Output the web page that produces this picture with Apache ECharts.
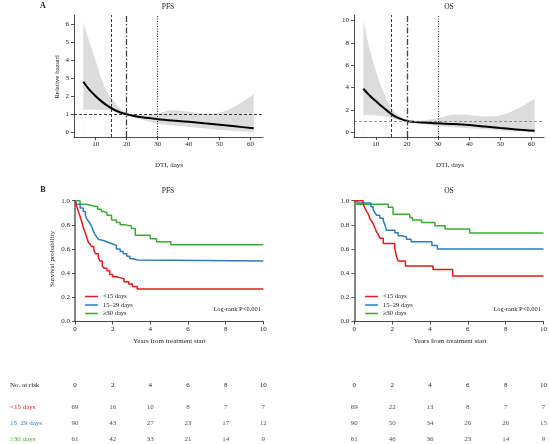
<!DOCTYPE html>
<html><head><meta charset="utf-8">
<script src="https://cdn.jsdelivr.net/npm/echarts@6/dist/echarts.min.js"></script>
<style>html,body{margin:0;padding:0;background:#fff}#c{width:550px;height:444px}</style>
</head><body><div id="c"></div>
<script>
// ---------- Panel A: relative hazard vs DTI ----------
const hazX   = [6, 8, 10, 12, 14, 16, 18, 20, 22, 25, 30, 35, 40, 45, 50, 55, 61];
const pfsHR  = [2.8, 2.35, 2.0, 1.7, 1.45, 1.25, 1.1, 1.0, 0.92, 0.83, 0.73, 0.65, 0.58, 0.5, 0.42, 0.33, 0.22];
const pfsLo  = [1.25, 1.25, 1.25, 1.25, 1.22, 1.12, 1.03, 0.95, 0.85, 0.7, 0.48, 0.38, 0.3, 0.22, 0.13, 0.07, 0.02];
const pfsHi  = [6.1, 5.0, 3.95, 2.9, 2.15, 1.7, 1.3, 1.05, 0.98, 0.96, 1.05, 1.22, 1.14, 1.04, 1.1, 1.45, 2.1];
const osHR   = [3.9, 3.3, 2.8, 2.3, 1.85, 1.45, 1.2, 1.02, 0.94, 0.87, 0.8, 0.74, 0.65, 0.52, 0.38, 0.26, 0.15];
const osLo   = [1.55, 1.55, 1.5, 1.45, 1.35, 1.2, 1.05, 0.97, 0.88, 0.75, 0.56, 0.45, 0.37, 0.27, 0.17, 0.09, 0.03];
const osHi   = [10.1, 7.5, 5.5, 3.9, 2.7, 1.85, 1.35, 1.08, 1.02, 1.05, 1.25, 1.6, 1.55, 1.42, 1.52, 2.05, 3.0];
const cutoffs = [15, 20, 30];
const hazTicksX = [10, 20, 30, 40, 50, 60];
const pfsTicksY = [0, 1, 2, 3, 4, 5, 6];
const osTicksY  = [0, 2, 4, 6, 8, 10];

// ---------- Panel B: Kaplan-Meier ----------
const groups = ['<15 days', '15–29 days', '≥30 days'];
const pfsLt15T = [0, 0.08, 0.18, 0.27, 0.35, 0.44, 0.53, 0.62, 0.70, 0.80, 0.88, 1.0, 1.1, 1.24, 1.33, 1.45, 1.55, 1.7, 1.85, 2.0, 2.2, 2.6, 2.85, 3.05, 3.3, 10];
const pfsLt15S = [1.0, 0.96, 0.91, 0.87, 0.83, 0.78, 0.74, 0.70, 0.66, 0.64, 0.62, 0.59, 0.56, 0.53, 0.50, 0.46, 0.44, 0.42, 0.39, 0.37, 0.355, 0.33, 0.31, 0.29, 0.27, 0.27];
const pfsMidT  = [0, 0.1, 0.27, 0.44, 0.55, 0.62, 0.72, 0.8, 0.9, 0.97, 1.06, 1.15, 1.25, 1.33, 1.5, 1.68, 1.85, 2.03, 2.2, 2.4, 2.56, 2.75, 2.92, 3.1, 3.3, 10];
const pfsMidS  = [1.0, 0.97, 0.94, 0.91, 0.88, 0.85, 0.83, 0.81, 0.78, 0.75, 0.72, 0.70, 0.68, 0.67, 0.66, 0.65, 0.64, 0.63, 0.60, 0.58, 0.56, 0.54, 0.52, 0.51, 0.50, 0.50];
const pfsHighT = [0, 0.27, 0.6, 0.88, 1.2, 1.4, 1.55, 1.7, 1.94, 2.2, 2.4, 2.7, 3.0, 3.2, 4.0, 4.33, 5.09, 10];
const pfsHighS = [1.0, 0.97, 0.96, 0.95, 0.93, 0.91, 0.90, 0.88, 0.84, 0.82, 0.80, 0.79, 0.77, 0.715, 0.685, 0.66, 0.636, 0.636];
const osLt15T  = [0, 0.47, 0.56, 0.65, 0.74, 0.83, 0.92, 1.0, 1.1, 1.18, 1.27, 1.35, 1.53, 2.14, 2.23, 2.32, 2.7, 4.16, 5.2, 10];
const osLt15S  = [1.0, 0.97, 0.94, 0.91, 0.89, 0.85, 0.83, 0.81, 0.77, 0.74, 0.72, 0.69, 0.645, 0.607, 0.537, 0.50, 0.46, 0.43, 0.377, 0.377];
const osMidT   = [0, 0.15, 0.88, 1.0, 1.1, 1.17, 1.35, 1.53, 1.62, 1.7, 2.14, 2.32, 2.5, 2.76, 3.0, 4.1, 4.39, 10];
const osMidS   = [1.0, 0.98, 0.95, 0.92, 0.90, 0.88, 0.854, 0.835, 0.80, 0.755, 0.735, 0.71, 0.70, 0.68, 0.66, 0.63, 0.60, 0.60];
const osHighT  = [0, 0.05, 1.79, 2.05, 2.93, 3.07, 3.55, 4.26, 4.8, 6.1, 10];
const osHighS  = [1.0, 0.97, 0.945, 0.887, 0.86, 0.84, 0.82, 0.793, 0.765, 0.733, 0.733];

// ---------- Numbers at risk ----------
const riskTimes = [0, 2, 4, 6, 8, 10];
const riskRows = ['<15 days', '15  29 days', '≥30 days'];
const riskPfsLt15 = [69, 16, 10, 8, 7, 7];
const riskPfsMid  = [90, 43, 27, 23, 17, 12];
const riskPfsHigh = [61, 42, 33, 21, 14, 9];
const riskOsLt15  = [69, 22, 13, 8, 7, 7];
const riskOsMid   = [90, 50, 34, 26, 20, 15];
const riskOsHigh  = [61, 46, 36, 23, 14, 9];

const colors = ['#E41A1C', '#2B7BBF', '#3BAA36'];
const FONT = 'Liberation Serif';
const TXT = '#222';

const chart = echarts.init(document.getElementById('c'));

function pairs(xs, ys) { return xs.map((x, i) => [x, ys[i]]); }

function hazXAxis(gi) {
  return { type: 'value', gridIndex: gi, min: 3, max: 64, z: 5,
    axisLine: { onZero: false, lineStyle: { color: TXT, width: 0.8 } },
    axisTick: { customValues: hazTicksX, length: 3, lineStyle: { color: TXT, width: 0.8 } },
    axisLabel: { customValues: hazTicksX, fontSize: 7, fontFamily: FONT, color: TXT, margin: 4 },
    splitLine: { show: false } };
}
function hazYAxis(gi, min, max, ticks) {
  return { type: 'value', gridIndex: gi, min: min, max: max, z: 5,
    axisLine: { show: true, onZero: false, lineStyle: { color: TXT, width: 0.8 } },
    axisTick: { show: true, customValues: ticks, length: 3, lineStyle: { color: TXT, width: 0.8 } },
    axisLabel: { customValues: ticks, fontSize: 7, fontFamily: FONT, color: TXT, margin: 5 },
    splitLine: { show: false } };
}
function kmXAxis(gi) {
  return { type: 'value', gridIndex: gi, min: 0, max: 10, interval: 2,
    axisLine: { onZero: false, lineStyle: { color: '#333', width: 0.9 } },
    axisTick: { length: 3, lineStyle: { color: '#333', width: 0.9 } },
    axisLabel: { fontSize: 7, fontFamily: FONT, color: TXT, margin: 4 },
    splitLine: { show: false } };
}
function kmYAxis(gi) {
  return { type: 'value', gridIndex: gi, min: 0, max: 1, interval: 0.2,
    axisLine: { show: true, onZero: false, lineStyle: { color: '#666', width: 1.6 } },
    axisTick: { show: true, length: 3, lineStyle: { color: '#444', width: 0.9 } },
    axisLabel: { fontSize: 7, fontFamily: FONT, color: TXT, margin: 5, formatter: v => v.toFixed(1) },
    splitLine: { show: false } };
}
function riskXAxis(gi) {
  return { type: 'value', gridIndex: gi, min: 0, max: 10, position: 'top',
    axisLine: { show: false }, axisTick: { show: false },
    axisLabel: { customValues: riskTimes, fontSize: 7, fontFamily: FONT, color: TXT, margin: 21.7, verticalAlign: 'middle' },
    splitLine: { show: false } };
}
function riskYAxis(gi, showLabels) {
  return { type: 'category', gridIndex: gi, data: riskRows, inverse: true, boundaryGap: false,
    axisLine: { show: false }, axisTick: { show: false },
    axisLabel: { show: showLabels, fontSize: 7, fontFamily: FONT, align: 'left', margin: 65,
      color: (v, i) => colors[i] },
    splitLine: { show: false } };
}

function hazSeries(ax, lo, hi, est, hcolor) {
  return [
    // upper CI bound, filled down to the axis in grey
    { type: 'line', xAxisIndex: ax, yAxisIndex: ax, data: pairs(hazX, hi), symbol: 'none',
      smooth: 0.35, lineStyle: { opacity: 0 },
      areaStyle: { color: '#DCDCDC', opacity: 1, origin: 'start' }, silent: true, z: 1 },
    // lower CI bound, filled down in white so only the band remains grey
    { type: 'line', xAxisIndex: ax, yAxisIndex: ax, data: pairs(hazX, lo), symbol: 'none',
      smooth: 0.35, lineStyle: { opacity: 0 },
      areaStyle: { color: '#FFFFFF', opacity: 1, origin: 'start' }, silent: true, z: 1 },
    { type: 'line', xAxisIndex: ax, yAxisIndex: ax, data: pairs(hazX, est), symbol: 'none', smooth: 0.35,
      lineStyle: { color: '#000', width: 2 }, silent: true, z: 3,
      markLine: { silent: true, symbol: 'none', label: { show: false }, animation: false,
        data: [
          { xAxis: cutoffs[0], lineStyle: { type: [3, 2], color: '#222', width: 0.9 } },
          { xAxis: cutoffs[1], lineStyle: { type: [6, 2, 1.5, 2], color: '#444', width: 1.3 } },
          { xAxis: cutoffs[2], lineStyle: { type: [1, 1.5], color: '#222', width: 1 } },
          { yAxis: 1, lineStyle: { type: [3, 2], color: hcolor, width: 0.9 } }
        ] } }
  ];
}
function kmSeries(ax, sets) {
  return sets.map((s, k) => ({
    type: 'line', name: groups[k], xAxisIndex: ax, yAxisIndex: ax, step: 'end', symbol: 'none',
    data: pairs(s[0], s[1]), lineStyle: { color: colors[k], width: 1.5 }, itemStyle: { color: colors[k] }, z: 3 - k
  }));
}
function riskSeries(ax, rowsVals) {
  return rowsVals.map((vals, k) => ({
    type: 'scatter', name: 'risk' + ax + k, xAxisIndex: ax, yAxisIndex: ax, symbol: 'circle', symbolSize: 1,
    itemStyle: { color: 'rgba(0,0,0,0)' }, silent: true,
    data: riskTimes.map((t, i) => [t, riskRows[k], vals[i]]),
    label: { show: true, position: 'inside', formatter: p => String(p.data[2]), fontSize: 7, fontFamily: FONT, color: TXT }
  }));
}

function txt(x, y, text, opt) {
  opt = opt || {};
  return { type: 'text', x: x, y: y, rotation: opt.rot || 0, silent: true,
    style: { text: text, fill: opt.color || TXT, align: opt.align || 'center', verticalAlign: 'middle',
      font: (opt.bold ? 'bold ' : '') + (opt.size || 7) + 'px "' + FONT + '"' } };
}

const option = {
  animation: false,
  backgroundColor: '#fff',
  grid: [
    { left: 74, top: 15, width: 189, height: 122 },
    { left: 354, top: 15, width: 190, height: 122 },
    { left: 75, top: 200.7, width: 188.3, height: 120.8 },
    { left: 354.3, top: 200.7, width: 190, height: 120.8 },
    { left: 75, top: 406.7, width: 188.3, height: 32.3 },
    { left: 354.3, top: 406.7, width: 190, height: 32.3 }
  ],
  xAxis: [hazXAxis(0), hazXAxis(1), kmXAxis(2), kmXAxis(3), riskXAxis(4), riskXAxis(5)],
  yAxis: [hazYAxis(0, -0.26, 6.5, pfsTicksY), hazYAxis(1, -0.42, 10.5, osTicksY), kmYAxis(2), kmYAxis(3),
          riskYAxis(4, true), riskYAxis(5, false)],
  legend: [
    { left: 80, top: 288, orient: 'vertical', data: groups, icon: 'rect', itemWidth: 13, itemHeight: 1.5, itemGap: 1.5,
      selectedMode: false, textStyle: { fontSize: 6.5, fontFamily: FONT, color: TXT, padding: [0, 0, 0, 0] } },
    { left: 360, top: 288, orient: 'vertical', data: groups, icon: 'rect', itemWidth: 13, itemHeight: 1.5, itemGap: 1.5,
      selectedMode: false, textStyle: { fontSize: 6.5, fontFamily: FONT, color: TXT, padding: [0, 0, 0, 0] } }
  ],
  series: [].concat(
    hazSeries(0, pfsLo, pfsHi, pfsHR, '#222'),
    hazSeries(1, osLo, osHi, osHR, '#888'),
    kmSeries(2, [[pfsLt15T, pfsLt15S], [pfsMidT, pfsMidS], [pfsHighT, pfsHighS]]),
    kmSeries(3, [[osLt15T, osLt15S], [osMidT, osMidS], [osHighT, osHighS]]),
    riskSeries(4, [riskPfsLt15, riskPfsMid, riskPfsHigh]),
    riskSeries(5, [riskOsLt15, riskOsMid, riskOsHigh])
  ),
  graphic: [
    txt(43, 6, 'A', { bold: true, size: 8 }),
    txt(168, 7, 'PFS', { size: 7.5 }),
    txt(449, 7, 'OS', { size: 7.5 }),
    txt(57, 77, 'Relative hazard', { rot: Math.PI / 2 }),
    txt(169, 165, 'DTI, days'),
    txt(450, 165, 'DTI, days'),
    txt(43, 189.5, 'B', { bold: true, size: 8 }),
    txt(168, 190.7, 'PFS', { size: 7.5 }),
    txt(449, 190.7, 'OS', { size: 7.5 }),
    txt(52, 259, 'Survival probability', { rot: Math.PI / 2 }),
    txt(169.5, 340.7, 'Years from treatment start'),
    txt(450, 340.7, 'Years from treatment start'),
    txt(261, 309, 'Log-rank P<0.001', { align: 'right', size: 6.5 }),
    txt(541, 309, 'Log-rank P<0.001', { align: 'right', size: 6.5 }),
    txt(10, 385, 'No. at risk', { align: 'left' })
  ]
};
chart.setOption(option);
</script>
</body></html>
